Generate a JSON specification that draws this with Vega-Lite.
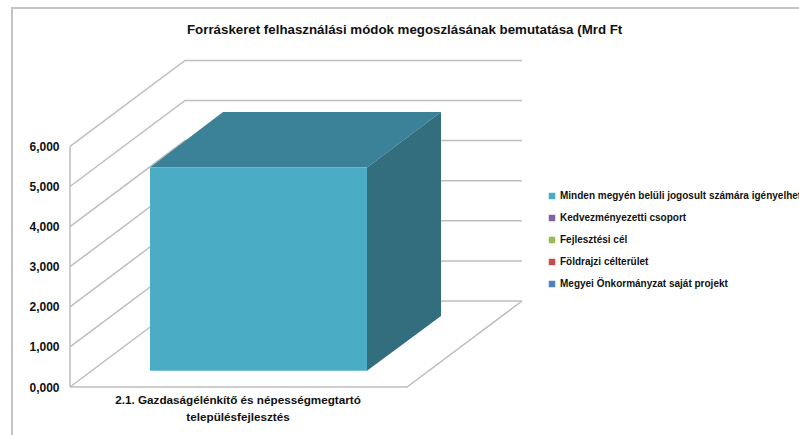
{
"$schema":"https://vega.github.io/schema/vega-lite/v6.json",
"width":799,"height":435,"padding":0,"autosize":{"type":"none"},
"background":"white",
"config":{"view":{"stroke":null},"font":"Liberation Sans"},
"title":{"text":"Forráskeret  felhasználási módok megoszlásának bemutatása (Mrd  Ft","font":"Liberation Sans","fontSize":13.3,"fontWeight":"bold","color":"#111111","anchor":"start","frame":"group","dx":187,"offset":-36},
"layer":[
{"data":{"values":[
{"vonal":"keret","x":12,"y":-1.197},{"vonal":"keret","x":12,"y":9.45},{"vonal":"keret","x":799,"y":9.45}
]},
"mark":{"type":"line","color":"#C4C4C4","strokeWidth":2,"clip":false},
"encoding":{"x":{"field":"x","type":"quantitative","scale":{"domain":[0,799],"nice":false,"zero":false},"axis":null},
"y":{"field":"y","type":"quantitative","scale":{"domain":[-1.197,9.651],"nice":false,"zero":false},
"axis":{"values":[0,1,2,3,4,5,6],"offset":-70,"domain":false,"ticks":false,"grid":false,"title":null,"labelPadding":11,"labelFontSize":12,"labelFontWeight":"bold","labelColor":"#111111","labelFont":"Liberation Sans","labelExpr":"replace(format(datum.value,'.3f'),'.',',')"}},
"order":{"field":"sor","type":"ordinal"},"detail":{"field":"vonal"}}},
{"data":{"values":[
{"vonal":"fal","sor":1,"x":70,"y":0},{"vonal":"fal","sor":2,"x":70,"y":6},
{"vonal":"v0","sor":1,"x":70,"y":0},{"vonal":"v0","sor":2,"x":185,"y":2.145},{"vonal":"v0","sor":3,"x":522,"y":2.145},
{"vonal":"v1","sor":1,"x":70,"y":1},{"vonal":"v1","sor":2,"x":185,"y":3.145},{"vonal":"v1","sor":3,"x":522,"y":3.145},
{"vonal":"v2","sor":1,"x":70,"y":2},{"vonal":"v2","sor":2,"x":185,"y":4.145},{"vonal":"v2","sor":3,"x":522,"y":4.145},
{"vonal":"v3","sor":1,"x":70,"y":3},{"vonal":"v3","sor":2,"x":185,"y":5.145},{"vonal":"v3","sor":3,"x":522,"y":5.145},
{"vonal":"v4","sor":1,"x":70,"y":4},{"vonal":"v4","sor":2,"x":185,"y":6.145},{"vonal":"v4","sor":3,"x":522,"y":6.145},
{"vonal":"v5","sor":1,"x":70,"y":5},{"vonal":"v5","sor":2,"x":185,"y":7.145},{"vonal":"v5","sor":3,"x":522,"y":7.145},
{"vonal":"v6","sor":1,"x":70,"y":6},{"vonal":"v6","sor":2,"x":185,"y":8.145},{"vonal":"v6","sor":3,"x":522,"y":8.145},
{"vonal":"padlo","sor":1,"x":70,"y":0},{"vonal":"padlo","sor":2,"x":407,"y":0},{"vonal":"padlo","sor":3,"x":522,"y":2.145}
]},
"mark":{"type":"line","color":"#BEBEBE","strokeWidth":1.5},
"encoding":{"x":{"field":"x","type":"quantitative"},"y":{"field":"y","type":"quantitative"},
"order":{"field":"sor","type":"quantitative"},"detail":{"field":"vonal"}}},
{"data":{"values":[
{"x":150,"y":5.474,"y2":5.474},{"x":223,"y":6.858,"y2":5.474},{"x":367,"y":6.858,"y2":5.474},{"x":441,"y":6.858,"y2":6.858}
]},
"mark":{"type":"area","color":"#3B8198","opacity":1},
"encoding":{"x":{"field":"x","type":"quantitative"},"y":{"field":"y","type":"quantitative"},"y2":{"field":"y2"}}},
{"data":{"values":[
{"x":367,"y":5.474,"y2":0.406},{"x":441,"y":6.858,"y2":1.77}
]},
"mark":{"type":"area","color":"#326E7E","opacity":1},
"encoding":{"x":{"field":"x","type":"quantitative"},"y":{"field":"y","type":"quantitative"},"y2":{"field":"y2"}}},
{"data":{"values":[
{"sorozat":"Minden megyén belüli jogosult számára igényelhet","bal":150,"jobb":367,"also":0.406,"felso":5.474},
{"sorozat":"Kedvezményezetti csoport","bal":150,"jobb":367,"also":0.406,"felso":0.406},
{"sorozat":"Fejlesztési cél","bal":150,"jobb":367,"also":0.406,"felso":0.406},
{"sorozat":"Földrajzi célterület","bal":150,"jobb":367,"also":0.406,"felso":0.406},
{"sorozat":"Megyei Önkormányzat saját projekt","bal":150,"jobb":367,"also":0.406,"felso":0.406}
]},
"mark":{"type":"rect","strokeWidth":0},
"encoding":{"x":{"field":"bal","type":"quantitative"},"x2":{"field":"jobb"},"y":{"field":"felso","type":"quantitative"},"y2":{"field":"also"},
"color":{"field":"sorozat","type":"nominal","scale":{"domain":["Minden megyén belüli jogosult számára igényelhet","Kedvezményezetti csoport","Fejlesztési cél","Földrajzi célterület","Megyei Önkormányzat saját projekt"],"range":["#4BACC6","#8064A2","#9BBB59","#C0504D","#4F81BD"]},
"legend":{"orient":"none","legendX":547,"legendY":191,"title":null,"symbolType":"square","symbolSize":42,"symbolStrokeWidth":0,"labelFontSize":10,"labelFontWeight":"bold","labelColor":"#111111","labelFont":"Liberation Sans","labelLimit":300,"rowPadding":12,"labelOffset":3}}}},
{"data":{"values":[{"kategoria":"2.1. Gazdaságélénkítő és népességmegtartó\ntelepülésfejlesztés","x":238,"y":-0.2}]},
"mark":{"type":"text","lineBreak":"\n","lineHeight":17,"baseline":"top","align":"center","fontSize":11.7,"fontWeight":"bold","color":"#111111"},
"encoding":{"x":{"field":"x","type":"quantitative"},"y":{"field":"y","type":"quantitative"},"text":{"field":"kategoria"}}}
]}
